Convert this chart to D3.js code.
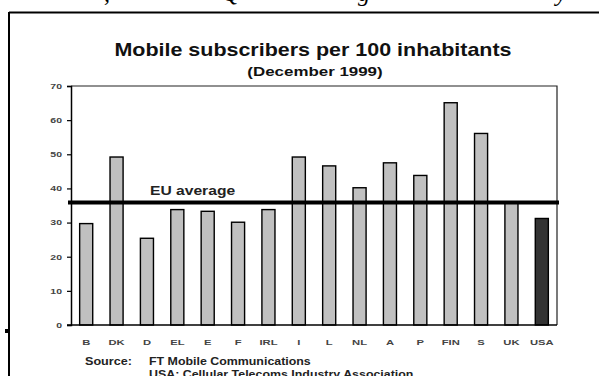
<!DOCTYPE html>
<html><head><meta charset="utf-8">
<script src="https://cdn.jsdelivr.net/npm/d3@7"></script>
<style>body{margin:0;background:#fff}svg{display:block}</style>
</head><body>
<svg id="c" width="599" height="376"></svg>
<script>
const categories = ["B","DK","D","EL","E","F","IRL","I","L","NL","A","P","FIN","S","UK","USA"];
const values = [29.7,49.2,25.4,33.8,33.3,30.1,33.8,49.2,46.6,40.2,47.5,43.8,65.1,56.1,35.8,31.2];
const euAverage = [35.9];
const yTicks = [0,10,20,30,40,50,60,70];
const sourceLines = ["FT Mobile Communications","USA: Cellular Telecoms Industry Association"];

const svg = d3.select("#c");
const m = {l:71, r:557, t:86, b:325};
const x = d3.scaleBand().domain(categories).range([m.l, m.r]).paddingInner(0.57).paddingOuter(0.285);
const y = d3.scaleLinear().domain([0,70]).range([m.b, m.t]);

function stretch(sel, k){
  sel.each(function(){
    const w = this.getComputedTextLength();
    d3.select(this).attr("textLength", w*k).attr("lengthAdjust","spacingAndGlyphs");
  });
}

// cut-off text above the frame
const cutText = svg.append("g").attr("font-family","Liberation Serif").attr("font-style","italic").attr("font-size",24).attr("fill","#000");
[[104,","],[222,"Q"],[358,"g"],[556,"y"]].forEach(([px,ch]) => cutText.append("text").attr("x",px).attr("y",1).text(ch));

// outer frame
svg.append("line").attr("x1",9).attr("x2",599).attr("y1",12.5).attr("y2",12.5).attr("stroke","#000").attr("stroke-width",2);
svg.append("line").attr("x1",9).attr("x2",9).attr("y1",12).attr("y2",376).attr("stroke","#000").attr("stroke-width",2);
svg.append("rect").attr("x",5).attr("y",329).attr("width",4).attr("height",4).attr("fill","#000");

// title
svg.append("text").attr("x",313).attr("y",56).attr("text-anchor","middle")
  .attr("font-family","Liberation Sans").attr("font-weight","bold").attr("font-size",18.5).attr("fill","#111")
  .text("Mobile subscribers per 100 inhabitants").call(stretch,1.16);
svg.append("text").attr("x",315).attr("y",76).attr("text-anchor","middle")
  .attr("font-family","Liberation Sans").attr("font-weight","bold").attr("font-size",13).attr("fill","#111")
  .text("(December 1999)").call(stretch,1.3);

// plot frame (top and right)
svg.append("path").attr("d",`M${m.l},${m.t}H${m.r}V${m.b}`).attr("fill","none").attr("stroke","#222").attr("stroke-width",1.2);

// bars
svg.append("g").selectAll("rect").data(categories).join("rect")
  .attr("x",d=>x(d)).attr("width",x.bandwidth())
  .attr("y",(d,i)=>y(values[i])).attr("height",(d,i)=>y(0)-y(values[i]))
  .attr("fill",d=>d==="USA"?"#333":"#c0c0c0").attr("stroke","#000").attr("stroke-width",1.4);

// y axis
const ya = svg.append("g").attr("transform",`translate(${m.l},0)`)
  .call(d3.axisLeft(y).tickValues(yTicks).tickSize(4).tickPadding(5));
ya.select(".domain").attr("stroke","#000").attr("stroke-width",1.5);
ya.selectAll(".tick line").attr("stroke","#000").attr("stroke-width",1.2);
ya.selectAll("text").attr("font-family","Liberation Sans").attr("font-weight","bold").attr("font-size",7.5).attr("fill","#444").call(stretch,1.4);

// x axis
const xa = svg.append("g").attr("transform",`translate(0,${m.b})`)
  .call(d3.axisBottom(x).tickSize(0).tickPadding(14));
xa.select(".domain").attr("stroke","#000").attr("stroke-width",1.5).attr("d",`M${m.l-4},0H${m.r}`);
xa.selectAll("text").attr("font-family","Liberation Sans").attr("font-weight","bold").attr("font-size",8).attr("fill","#444").call(stretch,1.4);

// EU average line
svg.append("g").selectAll("line").data(euAverage).join("line")
  .attr("x1",68).attr("x2",559).attr("y1",d=>y(d)).attr("y2",d=>y(d)).attr("stroke","#000").attr("stroke-width",4);
svg.append("text").attr("x",150).attr("y",y(euAverage[0])-7)
  .attr("font-family","Liberation Sans").attr("font-weight","bold").attr("font-size",12.5).attr("fill","#222")
  .text("EU average").call(stretch,1.25);

// source
const src = svg.append("g").attr("font-family","Liberation Sans").attr("font-weight","bold").attr("font-size",10.5).attr("fill","#222");
src.append("text").attr("x",85).attr("y",365).text("Source:").call(stretch,1.2);
sourceLines.forEach((s,i)=>src.append("text").attr("x",149).attr("y",365+12.5*i).text(s).call(stretch,1.18));
</script>
</body></html>
